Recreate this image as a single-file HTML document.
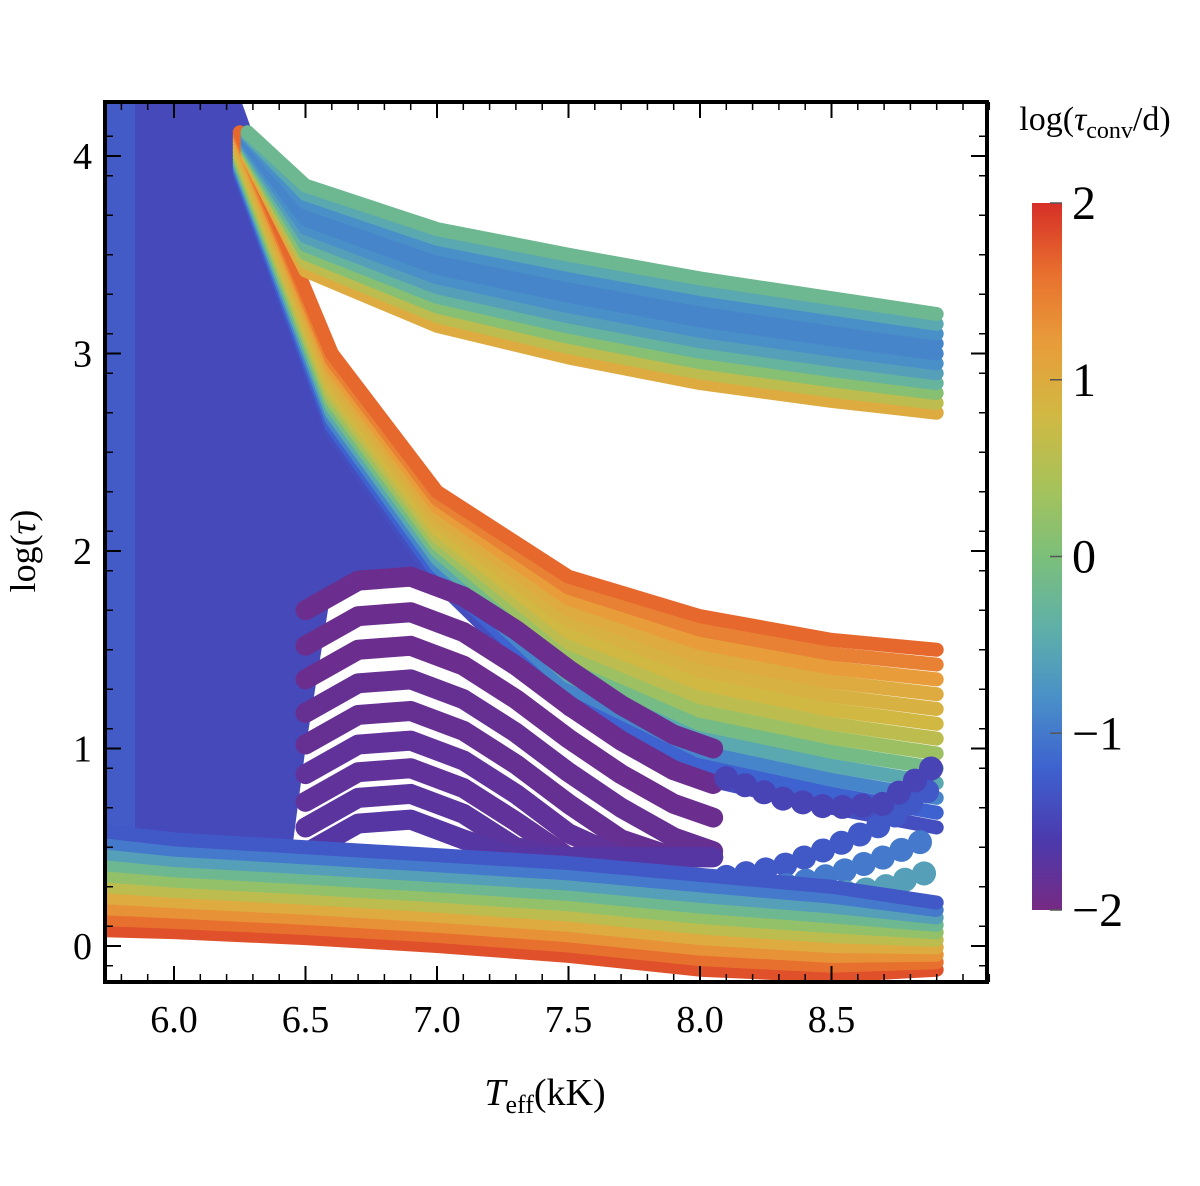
<!DOCTYPE html>
<html><head><meta charset="utf-8"><style>
html,body{margin:0;padding:0;background:#fff;}
svg{display:block;font-family:"Liberation Serif",serif;}
text{font-family:"Liberation Serif",serif;}
</style></head><body>
<svg id="chart" width="1200" height="1186" viewBox="0 0 1200 1186" font-family="Liberation Serif, serif">
<defs>
<clipPath id="pc"><rect x="105" y="102" width="882" height="880"/></clipPath>
<linearGradient id="cbg" x1="0" y1="1" x2="0" y2="0">
<stop offset="0" stop-color="#762a83"/><stop offset="0.1" stop-color="#4b3aae"/>
<stop offset="0.2" stop-color="#3e62cf"/><stop offset="0.3" stop-color="#4a90c8"/>
<stop offset="0.4" stop-color="#5fb0a8"/><stop offset="0.5" stop-color="#7cbf7a"/>
<stop offset="0.6" stop-color="#a8c25a"/><stop offset="0.7" stop-color="#d1b843"/>
<stop offset="0.8" stop-color="#e89d3a"/><stop offset="0.9" stop-color="#e8702e"/>
<stop offset="1" stop-color="#d62f27"/></linearGradient>
</defs>
<g id="plot" clip-path="url(#pc)"></g>
<rect x="105" y="102" width="882" height="880" fill="none" stroke="#000" stroke-width="4"/>
<g id="axes" font-family="Liberation Serif, serif"></g>
<text x="35" y="551" font-size="36" text-anchor="middle" transform="rotate(-90 35 551)">log(<tspan font-style="italic">τ</tspan>)</text>
<text x="545" y="1105" font-size="38" text-anchor="middle"><tspan font-style="italic">T</tspan><tspan font-size="26" dy="8">eff</tspan><tspan dy="-8">(kK)</tspan></text>
<text x="1095" y="130" font-size="34" text-anchor="middle">log(<tspan font-style="italic">τ</tspan><tspan font-size="24" dy="8">conv</tspan><tspan dy="-8">/d)</tspan></text>
<rect x="1032" y="203" width="30" height="707" fill="url(#cbg)"/>
<g id="cbar" font-family="Liberation Serif, serif"></g>
</svg>
<script>
// axis ticks
const xTicks = [6.0, 6.5, 7.0, 7.5, 8.0, 8.5];
const xTickLabels = ["6.0", "6.5", "7.0", "7.5", "8.0", "8.5"];
const yTicks = [0, 1, 2, 3, 4];
const yTickLabels = ["0", "1", "2", "3", "4"];
const cbTicks = [2, 1, 0, -1, -2];
const cbTickLabels = ["2", "1", "0", "\u22121", "\u22122"];

// upper band (T, top/bottom log tau) and per-track colour values top->bottom
const upperT = [6.28, 6.5, 7.0, 7.5, 8.0, 8.5, 8.9];
const upperTop = [4.12, 3.85, 3.63, 3.5, 3.38, 3.28, 3.2];
const upperBot = [4.0, 3.42, 3.14, 2.98, 2.85, 2.76, 2.7];
const upperC = [-0.2, -0.5, -0.8, -0.9, -0.9, -0.8, -0.6, -0.3, 0.1, 0.6, 1.0];

// middle band
const midT = [6.25, 6.6, 7.0, 7.5, 8.0, 8.5, 8.9];
const midTop = [4.12, 3.0, 2.3, 1.87, 1.67, 1.55, 1.5];
const midBot = [3.9, 2.6, 1.85, 1.2, 0.85, 0.7, 0.6];
const midC = [1.65, 1.45, 1.2, 1.0, 0.9, 0.8, 0.6, 0.3, -0.1, -0.5, -0.9, -1.2, -1.4];

// bottom band
const lowT = [5.74, 6.0, 6.5, 7.0, 7.5, 8.0, 8.5, 8.9];
const lowTop = [0.58, 0.54, 0.5, 0.46, 0.42, 0.36, 0.3, 0.22];
const lowBot = [0.08, 0.07, 0.04, 0.0, -0.05, -0.12, -0.15, -0.12];
const lowC = [-1.3, -1.0, -0.6, -0.2, 0.2, 0.6, 1.0, 1.3, 1.6, 1.8];

// blue region outline
const blueT = [5.74, 6.25, 6.6, 7.0, 7.4, 7.0, 6.6, 6.5, 6.45, 5.74];
const blueY = [4.3, 4.3, 3.0, 2.3, 1.95, 1.88, 1.82, 1.0, 0.5, 0.5];
const blueC = -1.45;

// purple arcs: base shape + offsets
const arcT = [6.5, 6.7, 6.9, 7.1, 7.3, 7.5, 7.7, 7.9, 8.05];
const arcShape = [-0.15, 0.0, 0.02, -0.08, -0.25, -0.45, -0.63, -0.78, -0.85];
const arcBase = [1.85, 1.67, 1.5, 1.33, 1.17, 1.02, 0.88, 0.75, 0.62];
const arcC = [-1.9, -1.9, -1.9, -1.85, -1.85, -1.8, -1.8, -1.75, -1.7];

// right lower blue tracks
const rtT = [8.1, 8.3, 8.5, 8.7, 8.88];
const rtY = [[0.35, 0.4, 0.5, 0.62, 0.8], [0.28, 0.3, 0.36, 0.45, 0.55], [0.22, 0.22, 0.26, 0.3, 0.38], [0.85, 0.75, 0.7, 0.72, 0.9]];
const rtC = [-1.3, -1.0, -0.6, -1.5];

const X0 = 174, XS = 263, Y0 = 946, YS = 197.5;
function px(t){ return X0 + (t - 6) * XS; }
function py(v){ return Y0 - v * YS; }
const stops = [[-2,[118,42,131]],[-1.6,[75,58,174]],[-1.2,[62,98,207]],[-0.8,[74,144,200]],[-0.4,[95,176,168]],[0,[124,191,122]],[0.4,[168,194,90]],[0.8,[209,184,67]],[1.2,[232,157,58]],[1.6,[232,112,46]],[2,[214,47,39]]];
function cmap(v){
  v = Math.max(-2, Math.min(2, v));
  for (let i = 0; i < stops.length - 1; i++) {
    if (v <= stops[i+1][0]) {
      const f = (v - stops[i][0]) / (stops[i+1][0] - stops[i][0]);
      const a = stops[i][1], b = stops[i+1][1];
      return 'rgb(' + a.map((c,k)=>Math.round(c + (b[k]-c)*f)).join(',') + ')';
    }
  }
  return 'rgb(214,47,39)';
}
const NS = 'http://www.w3.org/2000/svg';
const plot = document.getElementById('plot');
const axes = document.getElementById('axes');
const cbar = document.getElementById('cbar');
function mk(tag, attrs, parent){
  const e = document.createElementNS(NS, tag);
  for (const k in attrs) e.setAttribute(k, attrs[k]);
  parent.appendChild(e); return e;
}

// blue region
const bp = mk('polygon', {points: blueT.map((t,i)=>px(t)+','+py(blueY[i])).join(' '), fill: cmap(blueC)}, plot);


const lp = mk('rect', {x: 105, y: py(4.3), width: 30, height: py(0.5)-py(4.3), fill: cmap(-1.15), opacity: 0.6}, plot);



function drawBand(name, T, top, bot, C){
  const n = C.length;
  let avg = 0;
  for (let j = 0; j < T.length; j++) avg += Math.abs(py(bot[j]) - py(top[j]));
  avg /= T.length;
  const w = Math.max(14, avg / n * 1.5);
  for (let i = n - 1; i >= 0; i--) {
    const f = n === 1 ? 0.5 : i / (n - 1);
    const pts = T.map((t,j)=>px(t)+','+(py(top[j]) + (py(bot[j]) - py(top[j])) * f)).join(' ');
    const pl = mk('polyline', {points: pts, fill: 'none', stroke: cmap(C[i]), 'stroke-width': w, 'stroke-linecap': 'round', 'stroke-linejoin': 'round'}, plot);
    
    
  }
}
drawBand('middle-band', midT, midTop, midBot, midC);
drawBand('upper-band', upperT, upperTop, upperBot, upperC);

// purple arcs
for (let k = 0; k < arcBase.length; k++) {
  const pts = arcT.map((t,j)=>px(t)+','+py(Math.max(0.45, arcBase[k] + arcShape[j]))).join(' ');
  const pl = mk('polyline', {points: pts, fill: 'none', stroke: cmap(arcC[k]), 'stroke-width': 20, 'stroke-linecap': 'round', 'stroke-linejoin': 'round'}, plot);
  
  
}
// right lower tracks
for (let k = 0; k < rtY.length; k++) {
  const pts = rtT.map((t,j)=>px(t)+','+py(rtY[k][j])).join(' ');
  const pl = mk('polyline', {points: pts, fill: 'none', stroke: cmap(rtC[k]), 'stroke-width': 24, 'stroke-linecap': 'round', 'stroke-linejoin': 'round', 'stroke-dasharray': '0.1 20'}, plot);
  
  
}
drawBand('bottom-band', lowT, lowTop, lowBot, lowC);

// axes ticks
xTicks.forEach((t,i)=>{
  const x = px(t);
  mk('line', {x1:x, y1:982, x2:x, y2:966, stroke:'#000', 'stroke-width':2}, axes);
  mk('line', {x1:x, y1:102, x2:x, y2:118, stroke:'#000', 'stroke-width':2}, axes);
  const tx = mk('text', {x:x, y:1032, 'font-size':38, 'text-anchor':'middle', 'font-family':'Liberation Serif, serif'}, axes);
  tx.textContent = xTickLabels[i];
  
  
});
yTicks.forEach((v,i)=>{
  const y = py(v);
  mk('line', {x1:105, y1:y, x2:121, y2:y, stroke:'#000', 'stroke-width':2}, axes);
  mk('line', {x1:987, y1:y, x2:971, y2:y, stroke:'#000', 'stroke-width':2}, axes);
  const tx = mk('text', {x:92, y:y+13, 'font-size':38, 'text-anchor':'end', 'font-family':'Liberation Serif, serif'}, axes);
  tx.textContent = yTickLabels[i];
  
  
});
for (let v = -0.1; v < 4.25; v += 0.2) {
  const y = py(v);
  mk('line', {x1:105, y1:y, x2:113, y2:y, stroke:'#000', 'stroke-width':1.5}, axes);
  mk('line', {x1:987, y1:y, x2:979, y2:y, stroke:'#000', 'stroke-width':1.5}, axes);
}
for (let t = 5.8; t < 9.1; t += 0.1) {
  const x = px(t);
  mk('line', {x1:x, y1:982, x2:x, y2:974, stroke:'#000', 'stroke-width':1.5}, axes);
  mk('line', {x1:x, y1:102, x2:x, y2:110, stroke:'#000', 'stroke-width':1.5}, axes);
}
// colorbar ticks
cbTicks.forEach((v,i)=>{
  const y = 910 - (v + 2) / 4 * 707;
  mk('line', {x1:1050, y1:y, x2:1062, y2:y, stroke:'#555', 'stroke-width':1.5}, cbar);
  const tx = mk('text', {x:1072, y:y+16, 'font-size':48, 'font-family':'Liberation Serif, serif'}, cbar);
  tx.textContent = cbTickLabels[i];
  
  
});
</script>
</body></html>
